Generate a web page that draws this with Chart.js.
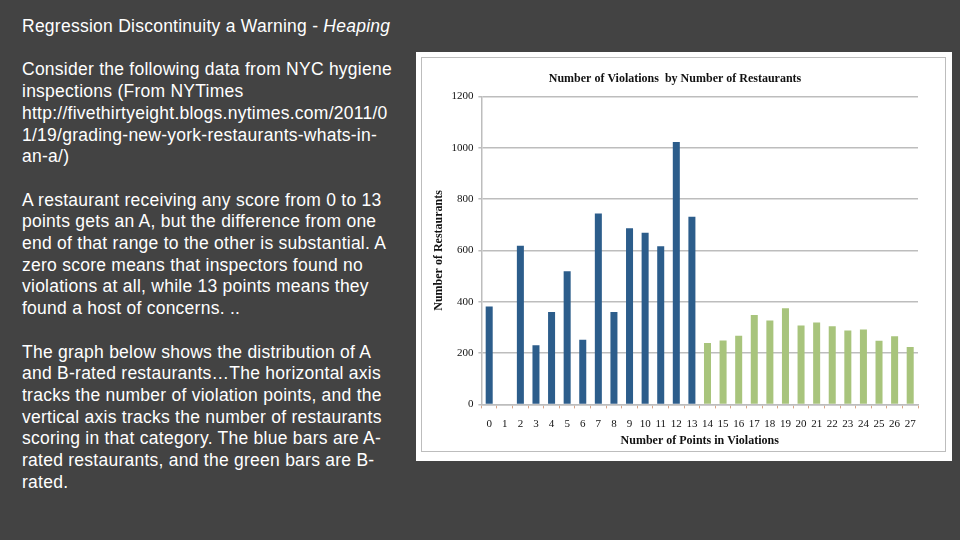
<!DOCTYPE html>
<html>
<head>
<meta charset="utf-8">
<script src="https://cdn.jsdelivr.net/npm/chart.js@4/dist/chart.umd.min.js"></script>
<style>
    html, body { margin: 0; padding: 0; }
    body { width: 960px; height: 540px; background: #434343; position: relative; overflow: hidden; }
    #notes {
        position: absolute; left: 22px; top: 16px; width: 390px;
        color: #ffffff; font-family: "Liberation Sans", Arial, sans-serif;
        font-size: 17.5px; letter-spacing: 0.25px; line-height: 21.7px; white-space: nowrap;
    }
    #frame {
        position: absolute; left: 416px; top: 52px; width: 536px; height: 409px;
        background: #ffffff; box-sizing: border-box; padding: 5px 6px 9px 5px;
    }
    #inner { width: 100%; height: 100%; border: 1px solid #bdbdbd; box-sizing: border-box; position: relative; }
</style>
</head>
<body>
<div id="notes">
Regression Discontinuity a Warning - <i>Heaping</i><br>
<br>
Consider the following data from NYC hygiene<br>
inspections (From NYTimes<br>
http://fivethirtyeight.blogs.nytimes.com/2011/0<br>
1/19/grading-new-york-restaurants-whats-in-<br>
an-a/)<br>
<br>
A restaurant receiving any score from 0 to 13<br>
points gets an A, but the difference from one<br>
end of that range to the other is substantial. A<br>
zero score means that inspectors found no<br>
violations at all, while 13 points means they<br>
found a host of concerns. ..<br>
<br>
The graph below shows the distribution of A<br>
and B-rated restaurants…The horizontal axis<br>
tracks the number of violation points, and the<br>
vertical axis tracks the number of restaurants<br>
scoring in that category. The blue bars are A-<br>
rated restaurants, and the green bars are B-<br>
rated.
</div>
<div id="frame"><div id="inner"><canvas id="chart"></canvas></div></div>
<script>
// Violation points 0..27
const points = ["0","1","2","3","4","5","6","7","8","9","10","11","12","13",
    "14","15","16","17","18","19","20","21","22","23","24","25","26","27"];
// A-rated restaurants (0-13 points)
const aRated = [381, 0, 618, 230, 360, 519, 252, 744, 360, 686, 669, 616, 1022, 731];
// B-rated restaurants (14-27 points)
const bRated = [239, 249, 267, 348, 327, 375, 307, 319, 304, 288, 292, 248, 266, 224];
const yTicks = [0, 200, 400, 600, 800, 1000, 1200];

const serif = "'Liberation Serif', 'Times New Roman', serif";

const aData = points.map((p, i) => i < aRated.length ? aRated[i] : null);
const bData = points.map((p, i) => i >= aRated.length ? bRated[i - aRated.length] : null);

const ctx = document.getElementById("chart").getContext("2d");
new Chart(ctx, {
    type: "bar",
    data: {
        labels: points,
        datasets: [
            { label: "A", data: aData, backgroundColor: "#2c5d8b", grouped: false, barPercentage: 0.9, categoryPercentage: 0.5 },
            { label: "B", data: bData, backgroundColor: "#a8c47c", grouped: false, barPercentage: 0.9, categoryPercentage: 0.5 }
        ]
    },
    options: {
        responsive: true,
        maintainAspectRatio: false,
        animation: false,
        layout: { padding: { left: 10, right: 27, top: 0, bottom: 0 } },
        plugins: {
            legend: { display: false },
            tooltip: { enabled: false },
            title: {
                display: true,
                text: "Number of Violations  by Number of Restaurants",
                color: "#111",
                font: { family: serif, size: 12, weight: "bold" },
                padding: { top: 14, bottom: 10 }
            }
        },
        scales: {
            x: {
                grid: { display: true, drawOnChartArea: false, offset: true, tickLength: 4, color: "#d8a58a" },
                border: { color: "#bdbdbd", width: 1.5 },
                ticks: { color: "#111", font: { family: serif, size: 11 }, maxRotation: 0, autoSkip: false, padding: 9 },
                title: { display: true, text: "Number of Points in Violations", color: "#111",
                    font: { family: serif, size: 12, weight: "bold" }, padding: { top: -6, bottom: 3 } }
            },
            y: {
                min: 0,
                max: 1200,
                afterBuildTicks: (scale) => { scale.ticks = yTicks.map(v => ({ value: v })); },
                grid: { color: "#bdbdbd", lineWidth: 1.5, tickLength: 3 },
                border: { color: "#bdbdbd", width: 1.5 },
                ticks: { color: "#111", font: { family: serif, size: 11 }, padding: 5, callback: (v) => String(v) },
                title: { display: true, text: "Number of Restaurants", color: "#111",
                    font: { family: serif, size: 12, weight: "bold" }, padding: { top: 0, bottom: 0 } }
            }
        }
    }
});
</script>
</body>
</html>
